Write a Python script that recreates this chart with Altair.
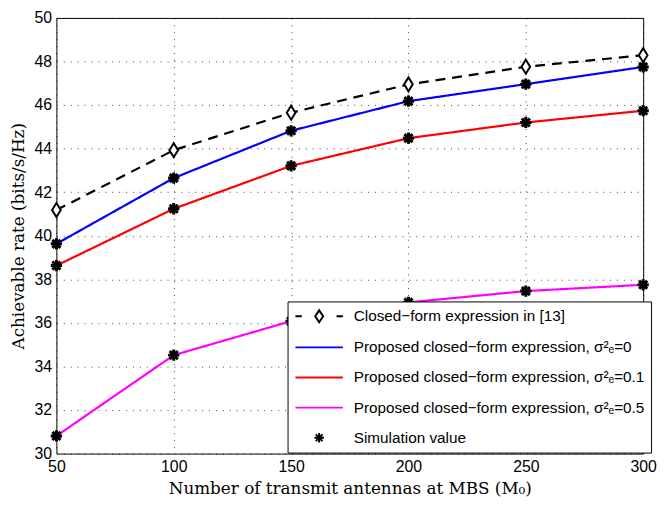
import altair as alt
import pandas as pd

# ---- data ----
antennas = [50, 100, 150, 200, 250, 300]
closed_form_ref = [41.18, 43.93, 45.65, 46.95, 47.76, 48.29]
proposed_0 = [39.63, 42.65, 44.82, 46.18, 46.96, 47.75]
proposed_01 = [38.63, 41.24, 43.21, 44.48, 45.20, 45.74]
proposed_05 = [30.81, 34.52, 36.08, 36.94, 37.46, 37.75]

series_names = [
    "Closed\u2212form expression in [13]",
    "Proposed closed\u2212form expression, \u03c3\u00b2\u2091=0",
    "Proposed closed\u2212form expression, \u03c3\u00b2\u2091=0.1",
    "Proposed closed\u2212form expression, \u03c3\u00b2\u2091=0.5",
    "Simulation value",
]
series_colors = ["#000000", "#0000ff", "#ff0000", "#ff00ff", "#000000"]
y_ticks = [30, 32, 34, 36, 38, 40, 42, 44, 46, 48, 50]

# ---- shapes ----
diamond_path = "M0,-1L0.62,0L0,1L-0.62,0Z"
star_path = "M0,-1L0,1M-1,0L1,0M-0.72,-0.72L0.72,0.72M-0.72,0.72L0.72,-0.72"
legend_shapes = [
    "M-3,0L-2.2,0M2.2,0L3,0M0,-0.75L0.5,0L0,0.75L-0.5,0Z",
    "M-3,0L3,0",
    "M-3,0L3,0",
    "M-3,0L3,0",
    "M0,-0.6L0,0.6M-0.6,0L0.6,0M-0.43,-0.43L0.43,0.43M-0.43,0.43L0.43,-0.43",
]

all_series = [closed_form_ref, proposed_0, proposed_01, proposed_05]
rows = []
for name, vals in zip(series_names[:4], all_series):
    for m, v in zip(antennas, vals):
        rows.append({"series": name, "M": m, "rate": v})
line_df = pd.DataFrame(rows)
diamond_df = line_df[line_df["series"] == series_names[0]]
star_df = line_df[line_df["series"] != series_names[0]]
legend_df = pd.DataFrame({"series": series_names, "M": [50] * 5, "rate": [20] * 5})

x_enc = alt.X("M:Q", scale=alt.Scale(domain=[50, 300], nice=False),
              axis=alt.Axis(values=antennas, title="Number of transmit antennas at MBS (M\u2080)"))
y_enc = alt.Y("rate:Q", scale=alt.Scale(domain=[30, 50], nice=False),
              axis=alt.Axis(values=y_ticks, title="Achievable rate (bits/s/Hz)"))

lines = alt.Chart(line_df).mark_line(strokeWidth=2.2, clip=True).encode(
    x=x_enc, y=y_enc,
    color=alt.Color("series:N", scale=alt.Scale(domain=series_names[:4], range=series_colors[:4]), legend=None),
    strokeDash=alt.StrokeDash("series:N", scale=alt.Scale(domain=series_names[:4],
                                                           range=[[10, 7], [1, 0], [1, 0], [1, 0]]), legend=None),
)

diamonds = alt.Chart(diamond_df).mark_point(
    shape=diamond_path, size=200, filled=True, fill="white", stroke="black", strokeWidth=2, opacity=1
).encode(x="M:Q", y="rate:Q")

stars = alt.Chart(star_df).mark_point(
    shape=star_path, size=130, filled=False, stroke="black", strokeWidth=3, opacity=1
).encode(x="M:Q", y="rate:Q")

legend_layer = alt.Chart(legend_df).mark_point(filled=False, clip=True, opacity=1, strokeWidth=2).encode(
    x="M:Q", y="rate:Q",
    color=alt.Color("series:N", scale=alt.Scale(domain=series_names, range=series_colors), title=None,
                    legend=alt.Legend(orient="none", legendX=234, legendY=287)),
    shape=alt.Shape("series:N", scale=alt.Scale(domain=series_names, range=legend_shapes), title=None),
)

chart = alt.layer(lines, diamonds, stars, legend_layer).resolve_scale(
    color="independent", shape="independent"
).properties(
    width=594, height=441,
    autosize=alt.AutoSizeParams(type="none"),
    padding={"left": 49, "top": 7, "right": 14, "bottom": 49},
).configure_view(stroke="black", strokeWidth=1).configure_axis(
    labelFont="Liberation Sans", labelFontSize=16, labelColor="black", labelPadding=5,
    labelFlush=False,
    titleFont="DejaVu Serif", titleFontSize=17, titleFontWeight="normal", titleColor="black",
    titlePadding=6, domain=False, ticks=False,
    gridColor="black", gridDash=[1, 6], gridOpacity=0.75, gridWidth=1,
).configure_legend(
    strokeColor="black", fillColor="white", padding=6, rowPadding=12.5,
    symbolSize=256, symbolStrokeWidth=2, symbolOffset=17,
    labelFont="Liberation Sans", labelFontSize=15.5,
    labelColor="black", labelLimit=600, labelOffset=26, cornerRadius=0,
)

chart.save("out.html", embed_options={"renderer": "svg", "actions": False})
